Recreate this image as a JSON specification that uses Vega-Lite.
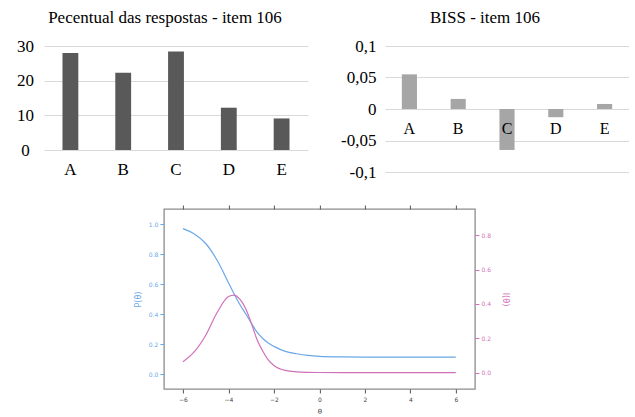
{
  "$schema": "https://vega.github.io/schema/vega-lite/v6.json",
  "autosize": {"type": "pad"},
  "padding": {"left": 16, "top": 9, "right": 0, "bottom": 0},
  "background": "white",
  "config": {
    "view": {"stroke": null},
    "font": "Liberation Serif",
    "title": {"font": "Liberation Serif", "fontSize": 17, "fontWeight": "normal", "color": "#000000", "offset": 10, "frame": "group"}
  },
  "datasets": {
    "pct": [
      {"opcao": "A", "pct": 28.0},
      {"opcao": "B", "pct": 22.3},
      {"opcao": "C", "pct": 28.4},
      {"opcao": "D", "pct": 12.2},
      {"opcao": "E", "pct": 9.1}
    ],
    "biss": [
      {"opcao": "A", "biss": 0.055},
      {"opcao": "B", "biss": 0.016},
      {"opcao": "C", "biss": -0.065},
      {"opcao": "D", "biss": -0.013},
      {"opcao": "E", "biss": 0.008}
    ],
    "curvas": [
      {"theta": -6, "p": 0.971, "info": 0.064},
      {"theta": -5.5, "p": 0.935, "info": 0.122},
      {"theta": -5, "p": 0.872, "info": 0.218},
      {"theta": -4.5, "p": 0.76, "info": 0.35},
      {"theta": -4, "p": 0.611, "info": 0.443},
      {"theta": -3.75, "p": 0.535, "info": 0.452},
      {"theta": -3.5, "p": 0.465, "info": 0.428},
      {"theta": -3.25, "p": 0.405, "info": 0.375},
      {"theta": -3, "p": 0.342, "info": 0.29},
      {"theta": -2.75, "p": 0.283, "info": 0.195},
      {"theta": -2.5, "p": 0.24, "info": 0.128},
      {"theta": -2.25, "p": 0.208, "info": 0.075},
      {"theta": -2, "p": 0.186, "info": 0.042},
      {"theta": -1.5, "p": 0.153, "info": 0.013},
      {"theta": -1, "p": 0.137, "info": 0.005},
      {"theta": -0.5, "p": 0.126, "info": 0.002},
      {"theta": 0, "p": 0.12, "info": 0.001},
      {"theta": 1, "p": 0.116, "info": 0.0},
      {"theta": 2, "p": 0.115, "info": 0.0},
      {"theta": 3, "p": 0.115, "info": 0.0},
      {"theta": 4, "p": 0.115, "info": 0.0},
      {"theta": 5, "p": 0.115, "info": 0.0},
      {"theta": 6, "p": 0.115, "info": 0.0}
    ]
  },
  "vconcat": [
    {
      "hconcat": [
        {
          "width": 264,
          "height": 104,
          "title": {"text": "Pecentual das respostas - item 106", "dx": -11},
          "data": {"name": "pct"},
          "mark": {"type": "bar", "color": "#595959"},
          "encoding": {
            "x": {
              "field": "opcao", "type": "nominal",
              "scale": {"paddingInner": 0.7, "paddingOuter": 0.35},
              "axis": {"title": null, "labelAngle": 0, "labelFont": "Liberation Serif", "labelFontSize": 17, "labelColor": "#000000", "ticks": false, "tickSize": 0, "domain": false, "labelPadding": 11}
            },
            "y": {
              "field": "pct", "type": "quantitative",
              "scale": {"domain": [0, 30], "nice": false},
              "axis": {"title": null, "values": [0, 10, 20, 30], "labelFont": "Liberation Serif", "labelFontSize": 17, "labelColor": "#000000", "labelAlign": "center", "labelPadding": 19, "ticks": false, "tickSize": 0, "domain": false, "gridColor": "#d9d9d9", "gridWidth": 1.2}
            }
          }
        },
        {
          "width": 244,
          "height": 126,
          "title": {"text": "BISS - item 106", "dx": -22},
          "data": {"name": "biss"},
          "mark": {"type": "bar", "color": "#a6a6a6"},
          "encoding": {
            "x": {
              "field": "opcao", "type": "nominal",
              "scale": {"paddingInner": 0.69, "paddingOuter": 0.345},
              "axis": {"title": null, "labelAngle": 0, "labelFont": "Liberation Serif", "labelFontSize": 16, "labelColor": "#000000", "ticks": false, "tickSize": 0, "domain": false, "labelPadding": 11, "offset": -63, "zindex": 1}
            },
            "y": {
              "field": "biss", "type": "quantitative",
              "scale": {"domain": [-0.1, 0.1], "nice": false},
              "axis": {"title": null, "values": [-0.1, -0.05, 0, 0.05, 0.1], "labelExpr": "replace(toString(datum.value), '.', ',')", "labelFont": "Liberation Serif", "labelFontSize": 17, "labelColor": "#000000", "labelPadding": 9, "ticks": false, "tickSize": 0, "domain": false, "gridColor": "#d9d9d9", "gridWidth": 1.2}
            }
          }
        }
      ],
      "spacing": 32
    },
    {
      "width": 311,
      "height": 180,
      "view": {"stroke": "#8c8c8c", "strokeWidth": 1.3},
      "data": {"name": "curvas"},
      "layer": [
        {
          "mark": {"type": "line", "color": "#6aa8e8", "strokeWidth": 1.2, "interpolate": "monotone"},
          "encoding": {
            "x": {
              "field": "theta", "type": "quantitative",
              "scale": {"domain": [-6.84, 6.84], "nice": false, "zero": false},
              "axis": {"orient": "bottom", "title": "θ", "values": [-6, -4, -2, 0, 2, 4, 6], "format": "d", "grid": false, "domain": false, "tickSize": 4, "tickColor": "#555555", "labelFont": "DejaVu Sans", "labelFontSize": 6, "labelColor": "#444444", "labelPadding": 3, "titleFont": "DejaVu Sans", "titleFontSize": 7, "titleFontWeight": "normal", "titleColor": "#444444", "titlePadding": 5}
            },
            "y": {
              "field": "p", "type": "quantitative",
              "scale": {"domain": [-0.098, 1.102], "nice": false, "zero": false},
              "axis": {"title": "P(θ)", "values": [0, 0.2, 0.4, 0.6, 0.8, 1], "format": ".1f", "grid": false, "domain": false, "tickSize": 4, "tickColor": "#6aa8e8", "labelFont": "DejaVu Sans", "labelFontSize": 6, "labelColor": "#6aa8e8", "labelPadding": 2, "titleFont": "DejaVu Sans", "titleFontSize": 8, "titleFontWeight": "normal", "titleColor": "#6aa8e8", "titlePadding": 6}
            }
          }
        },
        {
          "mark": {"type": "line", "color": "#d070b8", "strokeWidth": 1.2, "interpolate": "monotone"},
          "encoding": {
            "x": {
              "field": "theta", "type": "quantitative",
              "axis": {"orient": "top", "title": null, "labels": false, "values": [-6, -4, -2, 0, 2, 4, 6], "grid": false, "domain": false, "tickSize": 4, "tickColor": "#555555"}
            },
            "y": {
              "field": "info", "type": "quantitative",
              "scale": {"domain": [-0.095, 0.953], "nice": false, "zero": false},
              "axis": {"orient": "right", "title": "I(θ)", "values": [0, 0.2, 0.4, 0.6, 0.8], "format": ".1f", "grid": false, "domain": false, "tickSize": 4, "tickColor": "#d070b8", "labelFont": "DejaVu Sans", "labelFontSize": 6, "labelColor": "#d070b8", "labelPadding": 2, "titleFont": "DejaVu Sans", "titleFontSize": 8, "titleFontWeight": "normal", "titleColor": "#d070b8", "titlePadding": 10}
            }
          }
        }
      ],
      "resolve": {"scale": {"y": "independent"}, "axis": {"y": "independent", "x": "independent"}}
    }
  ],
  "center": true,
  "spacing": 23
}
